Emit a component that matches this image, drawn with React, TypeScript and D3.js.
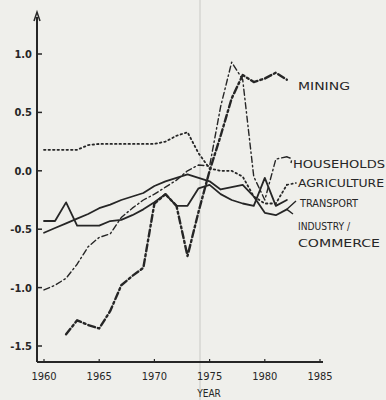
import * as d3 from 'd3';

const years = d3.range(1960, 1983);

// values, one per year 1960..1982 (null = no data)
const mining = [
  null, null, -1.4, -1.28, -1.32, -1.35, -1.2, -0.98, -0.9, -0.83, -0.28, -0.2,
  -0.3, -0.73, -0.35, 0.0, 0.3, 0.62, 0.82, 0.76, 0.79, 0.84, 0.78,
];
const households = [
  -1.02, -0.98, -0.92, -0.8, -0.65, -0.57, -0.54, -0.4, -0.32, -0.25, -0.2, -0.14,
  -0.08, 0.0, 0.05, 0.04, 0.55, 0.93, 0.78, -0.05, -0.25, 0.1, 0.12,
];
const agriculture = [
  0.18, 0.18, 0.18, 0.18, 0.22, 0.23, 0.23, 0.23, 0.23, 0.23, 0.23, 0.25,
  0.3, 0.33, 0.15, 0.02, 0.0, 0.0, -0.05, -0.22, -0.28, -0.28, -0.12,
];
const transport = [
  -0.43, -0.43, -0.27, -0.47, -0.47, -0.47, -0.43, -0.42, -0.38, -0.33, -0.27, -0.2,
  -0.3, -0.3, -0.15, -0.12, -0.2, -0.25, -0.28, -0.3, -0.06, -0.3, -0.25,
];
const industry = [
  -0.53, -0.49, -0.45, -0.41, -0.37, -0.32, -0.29, -0.25, -0.22, -0.19, -0.13, -0.09,
  -0.06, -0.03, -0.06, -0.09, -0.16, -0.14, -0.12, -0.22, -0.36, -0.38, -0.33,
];

const yTicks = [1.0, 0.5, 0.0, -0.5, -1.0, -1.5];
const xTicks = [1960, 1965, 1970, 1975, 1980, 1985];

const ink = '#262626';
const font = "'DejaVu Sans Condensed', 'Liberation Sans Narrow', 'Liberation Sans', sans-serif";

const x = d3.scaleLinear().domain([1960, 1985]).range([44, 320]);
const y = d3.scaleLinear().domain([-1.5, 1.0]).range([346, 54]);

const line = d3
  .line<[number, number | null]>()
  .defined((d) => d[1] !== null)
  .x((d) => x(d[0]))
  .y((d) => y(d[1] as number));

const series = [
  { name: 'mining', values: mining, width: 2.4, dash: '7,3,2,3' },
  { name: 'households', values: households, width: 1.4, dash: '6,3,1.5,3' },
  { name: 'agriculture', values: agriculture, width: 1.8, dash: '1.5,3' },
  { name: 'transport', values: transport, width: 1.8, dash: null },
  { name: 'industry', values: industry, width: 1.8, dash: null },
];

const labels = [
  { text: 'MINING', x: 298, y: 90, len: 52 },
  { text: 'HOUSEHOLDS', x: 293, y: 168, len: 92 },
  { text: 'AGRICULTURE', x: 298, y: 187, len: 86 },
  { text: 'TRANSPORT', x: 300, y: 207, len: 58 },
  { text: 'INDUSTRY /', x: 298, y: 230, len: 52 },
  { text: 'COMMERCE', x: 298, y: 247, len: 82 },
];

export default function App() {
  const last = (v: (number | null)[]) => [x(1982), y(v[v.length - 1] as number)];
  const [hx, hy] = last(households);
  const [ax, ay] = last(agriculture);
  const [ix, iy] = last(industry);

  return (
    <svg
      width={386}
      height={400}
      style={{ position: 'absolute', left: 0, top: 0, background: '#efefeb' }}
    >
      {/* paper fold */}
      <line x1={200} x2={200} y1={0} y2={400} stroke="#d6d6d2" strokeWidth={1.5} />

      {/* y axis */}
      <line x1={37} x2={37} y1={17} y2={362} stroke={ink} strokeWidth={2} />
      <path d="M34,21 L37,12 L40,21" fill="none" stroke={ink} strokeWidth={1.5} />
      {yTicks.map((t) => (
        <g key={t}>
          <line x1={37} x2={42} y1={y(t)} y2={y(t)} stroke={ink} strokeWidth={1.5} />
          <text
            x={32}
            y={y(t) + 4}
            textAnchor="end"
            fontFamily={font}
            fontSize={11}
            fontWeight="bold"
            fill={ink}
          >
            {t.toFixed(1)}
          </text>
        </g>
      ))}

      {/* x axis */}
      <line x1={37} x2={323} y1={362} y2={362} stroke={ink} strokeWidth={2} />
      {xTicks.map((t) => (
        <g key={t}>
          <line x1={x(t)} x2={x(t)} y1={362} y2={359} stroke={ink} strokeWidth={1.2} />
          <text
            x={x(t)}
            y={380}
            textAnchor="middle"
            fontFamily={font}
            fontSize={11}
            fill={ink}
          >
            {t}
          </text>
        </g>
      ))}
      <text x={209} y={397} textAnchor="middle" fontFamily={font} fontSize={10} fill={ink}>
        YEAR
      </text>

      {/* series */}
      {series.map((s) => (
        <path
          key={s.name}
          d={line(years.map((yr, i) => [yr, s.values[i]] as [number, number | null])) || ''}
          fill="none"
          stroke={ink}
          strokeWidth={s.width}
          strokeDasharray={s.dash || undefined}
          strokeLinecap="round"
          strokeLinejoin="round"
        />
      ))}

      {/* leaders to labels */}
      <path d={`M${hx},${hy} L${hx + 5},${hy + 2} L291,163`} fill="none" stroke={ink} strokeWidth={1.4} strokeDasharray="4,3" />
      <path d={`M${ax},${ay} L296,183`} fill="none" stroke={ink} strokeWidth={1.6} strokeDasharray="1.5,3" strokeLinecap="round" />
      <path d={`M${ix},${iy} L296,201 M${ix},${iy} L293,214`} fill="none" stroke={ink} strokeWidth={1.4} />

      {labels.map((l) => (
        <text
          key={l.text}
          x={l.x}
          y={l.y}
          fontFamily={font}
          fontSize={11}
          textLength={l.len}
          lengthAdjust="spacingAndGlyphs"
          fill={ink}
        >
          {l.text}
        </text>
      ))}
    </svg>
  );
}
